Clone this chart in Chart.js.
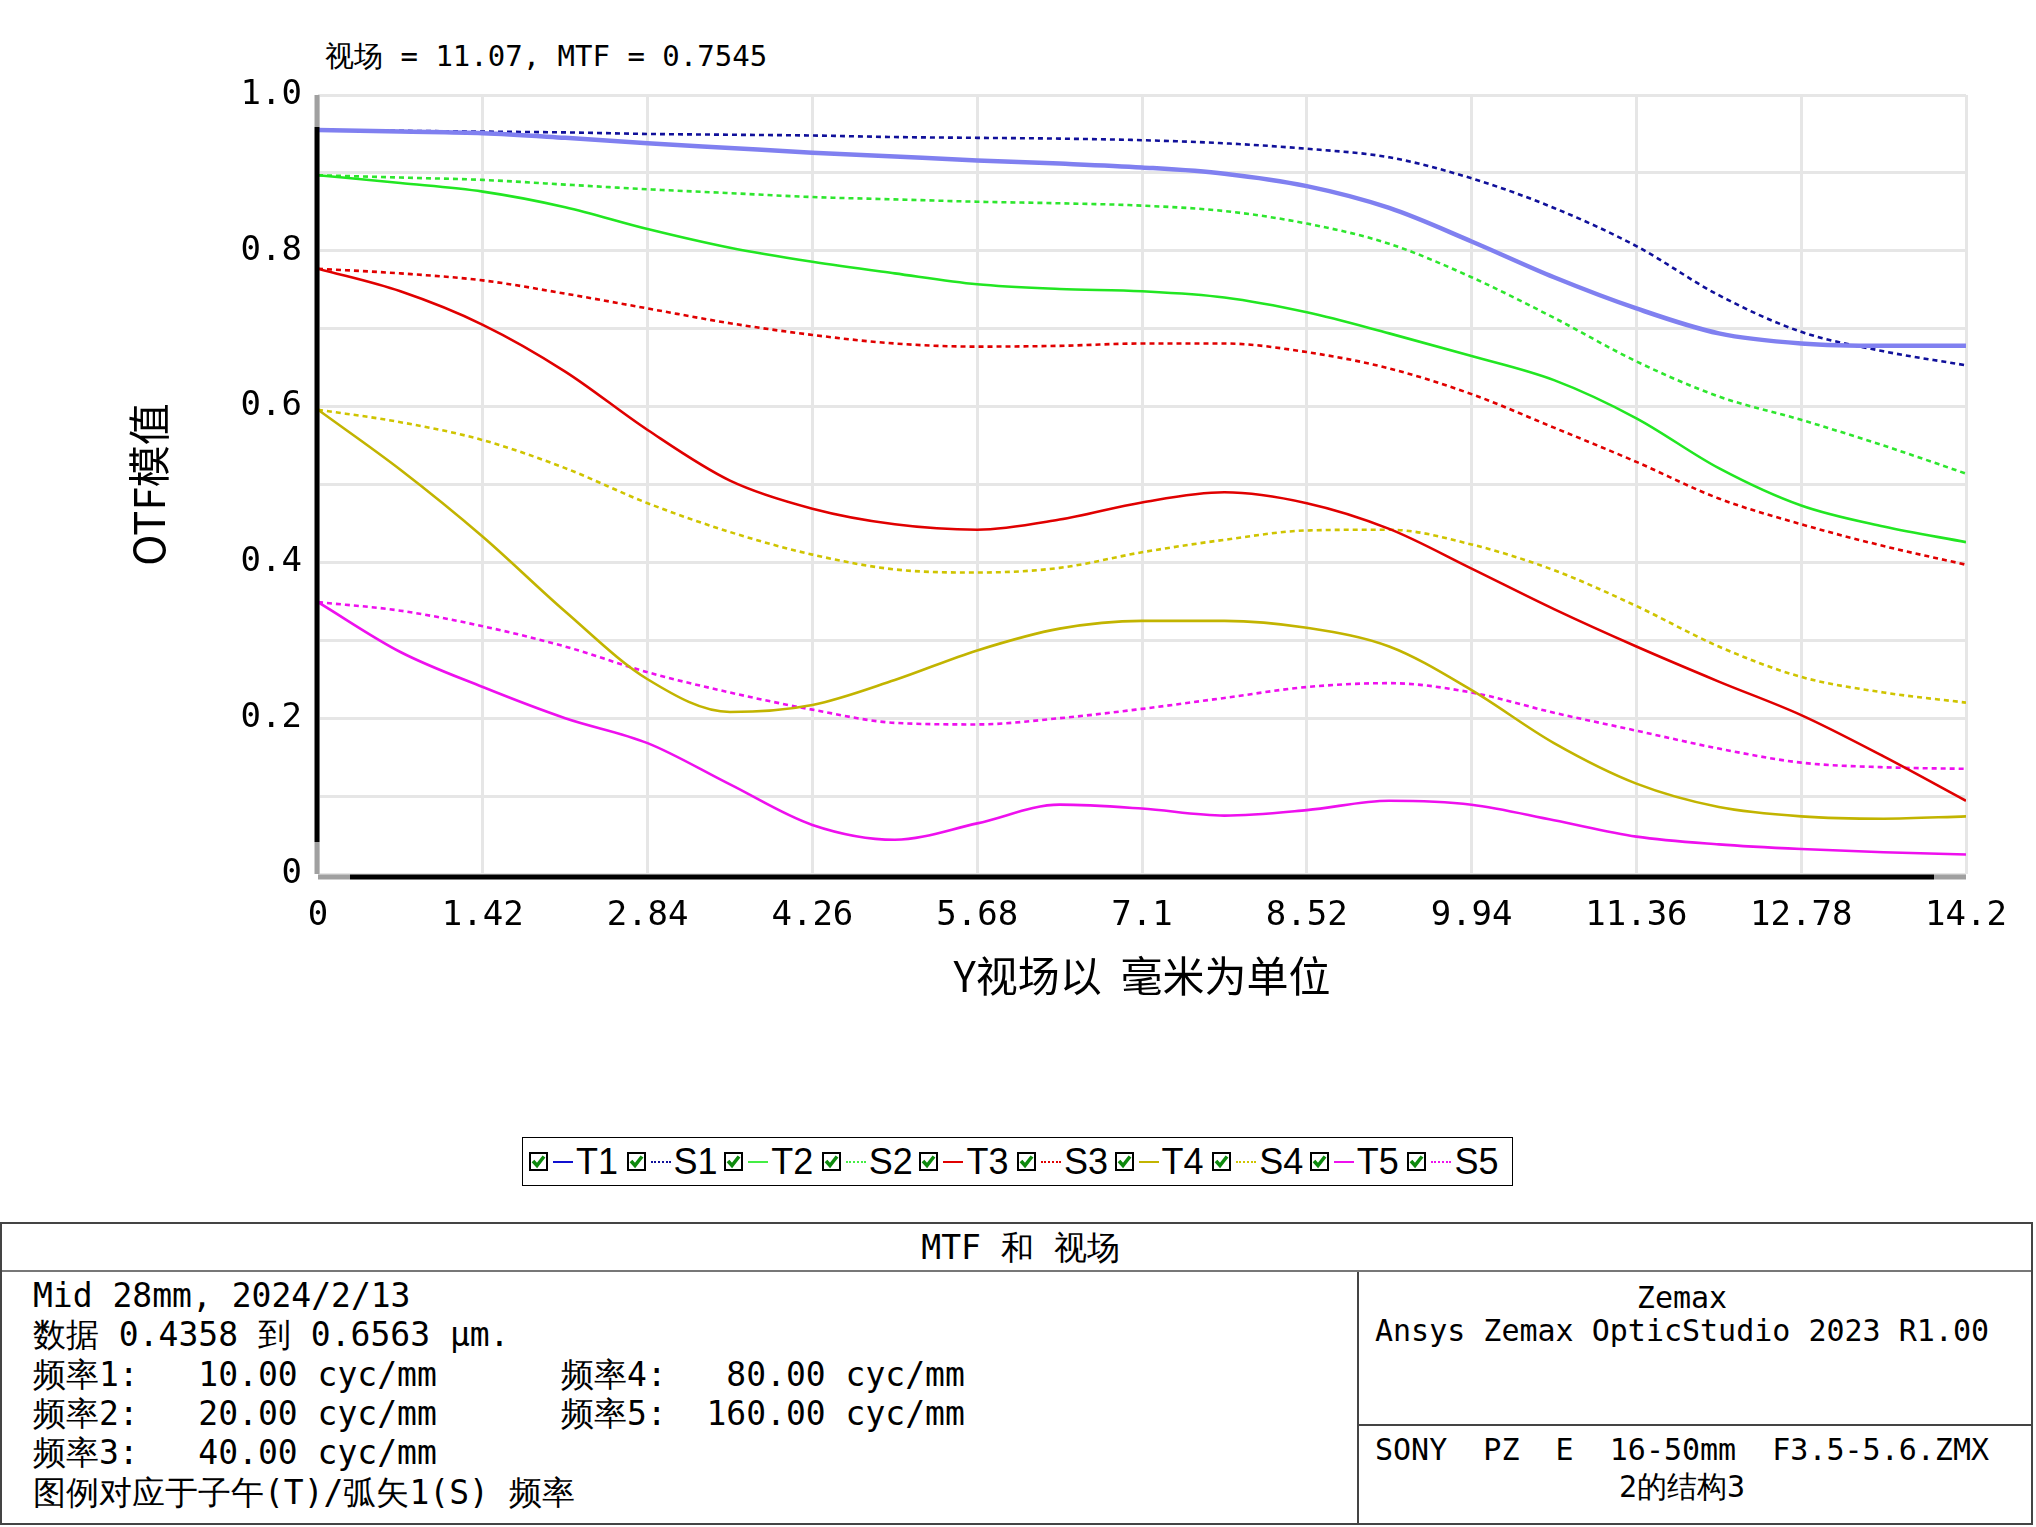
<!DOCTYPE html>
<html>
<head>
<meta charset="utf-8">
<script src="https://cdn.jsdelivr.net/npm/chart.js@4.4.1/dist/chart.umd.min.js"></script>
<style>
  html, body { margin:0; padding:0; background:#fff; }
  body { width:2036px; height:1527px; position:relative; overflow:hidden; }
  #chartWrap { position:absolute; left:0; top:0; width:2036px; height:1100px; }
  #hdr { position:absolute; left:325px; top:40px; font:29px 'DejaVu Sans Mono', monospace; white-space:pre; color:#000; line-height:32px; }
  #legend { position:absolute; left:522px; top:1137px; width:989px; height:47px; border:1.5px solid #000; box-sizing:content-box; }
  .lg-item { position:absolute; top:0; height:47px; display:flex; align-items:center; }
  .lg-box { width:15px; height:15px; border:2.5px solid #000; background:#fff; position:relative; }
  .lg-box svg { position:absolute; left:0; top:0; width:15px; height:15px; }
  .lg-dash { width:20px; height:0; margin-left:5px; margin-right:3px; }
  .lg-text { font:36px 'Liberation Sans', sans-serif; color:#000; line-height:40px; }
  #info { position:absolute; left:0; top:1222px; width:2033px; height:303px; border:2px solid #444; box-sizing:border-box; }
  #infoTitle { position:absolute; left:0; top:0; width:100%; height:48px; border-bottom:2px solid #777; text-align:center; font:33px 'DejaVu Sans Mono', monospace; line-height:48px; white-space:pre; padding-left:8px; box-sizing:border-box; }
  .mono33 { position:absolute; font:33px 'DejaVu Sans Mono', monospace; white-space:pre; line-height:39px; }
  #rightPanel { position:absolute; left:1355px; top:48px; right:0; bottom:0; border-left:2px solid #444; }
  #rightTop { position:absolute; left:0; right:0; top:0; height:152px; border-bottom:2px solid #444; }
  .mono30c { position:absolute; left:0; right:26px; text-align:center; font:30px 'DejaVu Sans Mono', monospace; white-space:pre; line-height:35px; }
</style>
</head>
<body>
<div id="hdr"></div>
<div id="chartWrap"><canvas id="c"></canvas></div>
<div id="legend"></div>
<div id="info">
  <div id="infoTitle"></div>
  <div id="leftLines"></div>
  <div id="rightPanel">
    <div id="rightTop"></div>
    <div id="rightBottom"></div>
  </div>
</div>
<script>
// ---------------- DATA ----------------
const xField = [0, 0.71, 1.42, 2.13, 2.84, 3.55, 4.26, 4.97, 5.68, 6.39, 7.1, 7.81, 8.52, 9.23, 9.94, 10.65, 11.36, 12.07, 12.78, 13.49, 14.2];

const T1 = [0.955,0.953,0.951,0.945,0.938,0.932,0.926,0.921,0.916,0.912,0.907,0.899,0.883,0.855,0.812,0.766,0.726,0.694,0.681,0.678,0.678];
const S1 = [0.955,0.954,0.953,0.952,0.950,0.949,0.948,0.946,0.945,0.944,0.942,0.938,0.931,0.920,0.893,0.855,0.806,0.743,0.696,0.671,0.653];
const T2 = [0.897,0.887,0.876,0.856,0.828,0.804,0.786,0.771,0.757,0.751,0.748,0.740,0.721,0.694,0.665,0.634,0.585,0.521,0.473,0.446,0.426];
const S2 = [0.897,0.894,0.891,0.885,0.879,0.874,0.869,0.866,0.863,0.861,0.858,0.851,0.835,0.809,0.766,0.714,0.658,0.613,0.583,0.550,0.514];
const T3 = [0.777,0.748,0.705,0.645,0.570,0.505,0.469,0.449,0.442,0.455,0.477,0.490,0.476,0.443,0.392,0.340,0.292,0.247,0.204,0.151,0.094];
const S3 = [0.777,0.771,0.762,0.745,0.726,0.707,0.692,0.681,0.677,0.678,0.681,0.681,0.670,0.649,0.616,0.573,0.529,0.482,0.449,0.421,0.397];
const T4 = [0.596,0.519,0.433,0.337,0.250,0.208,0.217,0.249,0.287,0.315,0.325,0.325,0.316,0.292,0.236,0.168,0.116,0.086,0.074,0.071,0.074];
const S4 = [0.596,0.580,0.557,0.521,0.476,0.439,0.410,0.391,0.387,0.393,0.413,0.429,0.441,0.442,0.423,0.390,0.344,0.292,0.253,0.233,0.220];
const T5 = [0.349,0.285,0.240,0.200,0.168,0.115,0.063,0.044,0.065,0.089,0.084,0.075,0.082,0.094,0.089,0.069,0.048,0.038,0.032,0.028,0.025];
const S5 = [0.349,0.338,0.318,0.292,0.259,0.233,0.211,0.194,0.192,0.200,0.212,0.226,0.240,0.245,0.233,0.207,0.184,0.161,0.143,0.137,0.135];

const seriesNames = ['T1','S1','T2','S2','T3','S3','T4','S4','T5','S5'];
const seriesValues = [T1,S1,T2,S2,T3,S3,T4,S4,T5,S5];

const xTickValues = [0, 1.42, 2.84, 4.26, 5.68, 7.1, 8.52, 9.94, 11.36, 12.78, 14.2];
const xTickLabels = ['0','1.42','2.84','4.26','5.68','7.1','8.52','9.94','11.36','12.78','14.2'];
const yGridValues = [0,0.1,0.2,0.3,0.4,0.5,0.6,0.7,0.8,0.9,1.0];
const yTickLabels = ['0','','0.2','','0.4','','0.6','','0.8','','1.0'];

const headerText = '视场 = 11.07, MTF = 0.7545';
const xTitle = 'Y视场以  毫米为单位';
const yTitle = 'OTF模值';
const infoTitle = 'MTF 和 视场';
const infoLeftLines = [
  'Mid 28mm, 2024/2/13',
  '数据 0.4358 到 0.6563 μm.',
  '频率1:   10.00 cyc/mm',
  '频率2:   20.00 cyc/mm',
  '频率3:   40.00 cyc/mm',
  '图例对应于子午(T)/弧矢1(S) 频率'
];
const infoLeftCol2 = ['频率4:   80.00 cyc/mm', '频率5:  160.00 cyc/mm'];
const infoRightTop = ['Zemax', 'Ansys Zemax OpticStudio 2023 R1.00'];
const infoRightBottom = ['SONY  PZ  E  16-50mm  F3.5-5.6.ZMX', '2的结构3'];

// ---------------- STYLES ----------------
const plotColors   = ['#8080f0','#10109a','#22e622','#2ee62e','#e00000','#e00000','#c2b400','#cfc400','#ee10ee','#ee10ee'];
const legendColors = ['#1010d0','#10109a','#44ee44','#44ee44','#e00000','#e00000','#c2b400','#cfc400','#ee10ee','#ee10ee'];
const lineWidths   = [4.5, 2.6, 2.6, 2.6, 2.6, 2.6, 2.6, 2.6, 2.6, 2.6];
const dashed       = [false,true,false,true,false,true,false,true,false,true];

// ---------------- TEXT ----------------
document.getElementById('hdr').textContent = headerText;
document.getElementById('infoTitle').textContent = infoTitle;
const leftLines = document.getElementById('leftLines');
infoLeftLines.forEach((t,i) => {
  const d = document.createElement('div');
  d.className = 'mono33';
  d.style.left = '31px';
  d.style.top = (52 + i*39.3) + 'px';
  d.textContent = t;
  leftLines.appendChild(d);
});
infoLeftCol2.forEach((t,i) => {
  const d = document.createElement('div');
  d.className = 'mono33';
  d.style.left = '559px';
  d.style.top = (52 + (i+2)*39.3) + 'px';
  d.textContent = t;
  leftLines.appendChild(d);
});
const rt = document.getElementById('rightTop');
infoRightTop.forEach((t,i) => {
  const d = document.createElement('div');
  d.className = 'mono30c';
  d.style.top = (8 + i*33) + 'px';
  d.textContent = t;
  rt.appendChild(d);
});
const rb = document.getElementById('rightBottom');
infoRightBottom.forEach((t,i) => {
  const d = document.createElement('div');
  d.className = 'mono30c';
  d.style.top = (160 + i*37) + 'px';
  d.textContent = t;
  rb.appendChild(d);
});

// ---------------- LEGEND ----------------
const lg = document.getElementById('legend');
const svgNS = 'http://www.w3.org/2000/svg';
seriesNames.forEach((n,i) => {
  const it = document.createElement('div');
  it.className = 'lg-item';
  it.style.left = (6 + i*97.6) + 'px';
  const box = document.createElement('div'); box.className = 'lg-box';
  const svg = document.createElementNS(svgNS, 'svg');
  svg.setAttribute('viewBox', '0 0 15 15');
  const pl = document.createElementNS(svgNS, 'polyline');
  pl.setAttribute('points', '2,7 6,11.5 13,2.5');
  pl.setAttribute('fill', 'none');
  pl.setAttribute('stroke', '#0e8a0e');
  pl.setAttribute('stroke-width', '3.6');
  pl.setAttribute('stroke-linejoin', 'miter');
  svg.appendChild(pl);
  box.appendChild(svg);
  const dash = document.createElement('div'); dash.className = 'lg-dash';
  dash.style.borderTop = (dashed[i] ? '2.5px dotted ' : '2.5px solid ') + legendColors[i];
  const tx = document.createElement('div'); tx.className = 'lg-text'; tx.textContent = n;
  it.appendChild(box); it.appendChild(dash); it.appendChild(tx);
  lg.appendChild(it);
});

// ---------------- CHART ----------------
const axisDecor = {
  id: 'axisDecor',
  afterDraw(chart) {
    const {ctx, chartArea:{left,right,top,bottom}} = chart;
    const cap = 32;
    ctx.save();
    ctx.lineWidth = 5;
    ctx.lineCap = 'butt';
    const seg = (x1,y1,x2,y2,c) => { ctx.strokeStyle=c; ctx.beginPath(); ctx.moveTo(x1,y1); ctx.lineTo(x2,y2); ctx.stroke(); };
    const lx = left - 1;
    seg(lx, top, lx, top+cap, '#a0a0a0');
    seg(lx, top+cap, lx, bottom-cap, '#000');
    seg(lx, bottom-cap, lx, bottom, '#a0a0a0');
    const by = bottom + 3;
    seg(left, by, left+cap, by, '#a0a0a0');
    seg(left+cap, by, right-cap, by, '#000');
    seg(right-cap, by, right, by, '#a0a0a0');
    ctx.restore();
  }
};

const datasets = seriesNames.map((n,i) => ({
  label: n,
  data: xField.map((x,j) => ({x: x, y: seriesValues[i][j]})),
  borderColor: plotColors[i],
  backgroundColor: plotColors[i],
  borderWidth: lineWidths[i],
  borderDash: dashed[i] ? [5,4] : [],
  pointRadius: 0,
  fill: false,
  cubicInterpolationMode: 'monotone',
  order: i === 0 ? 0 : 1
}));

new Chart(document.getElementById('c'), {
  type: 'line',
  data: { datasets },
  options: {
    responsive: true,
    maintainAspectRatio: false,
    animation: false,
    devicePixelRatio: 1,
    parsing: false,
    layout: { padding: { top: 95, right: 70, left: 0, bottom: 86 } },
    plugins: { legend: { display: false }, tooltip: { enabled: false }, title: { display: false } },
    scales: {
      x: {
        type: 'linear', min: 0, max: 14.2,
        afterBuildTicks: s => { s.ticks = xTickValues.map(v => ({value: v})); },
        afterFit: s => { s.height = 140; },
        ticks: {
          autoSkip: false, maxRotation: 0, minRotation: 0, padding: 22,
          color: '#000',
          font: { family: 'DejaVu Sans Mono', size: 34 },
          callback: (v, idx) => xTickLabels[idx]
        },
        grid: { color: '#e6e6e6', lineWidth: 3, drawTicks: false },
        border: { display: false },
        title: {
          display: true, text: xTitle, color: '#000',
          font: { family: "'Noto Sans CJK SC'", size: 42 },
          padding: { top: 0, bottom: 13 }
        }
      },
      y: {
        type: 'linear', min: 0, max: 1,
        afterBuildTicks: s => { s.ticks = yGridValues.map(v => ({value: v})); },
        afterFit: s => { s.width = 318; },
        ticks: {
          autoSkip: false, padding: 16, color: '#000',
          font: { family: 'DejaVu Sans Mono', size: 34 },
          callback: (v, idx) => yTickLabels[idx]
        },
        grid: { color: '#e6e6e6', lineWidth: 3, drawTicks: false },
        border: { display: false },
        title: {
          display: true, text: yTitle, color: '#000',
          font: { family: "'Noto Sans CJK SC'", size: 42 },
          padding: { top: 124, bottom: 0 }
        }
      }
    }
  },
  plugins: [axisDecor]
});
</script>
</body>
</html>
